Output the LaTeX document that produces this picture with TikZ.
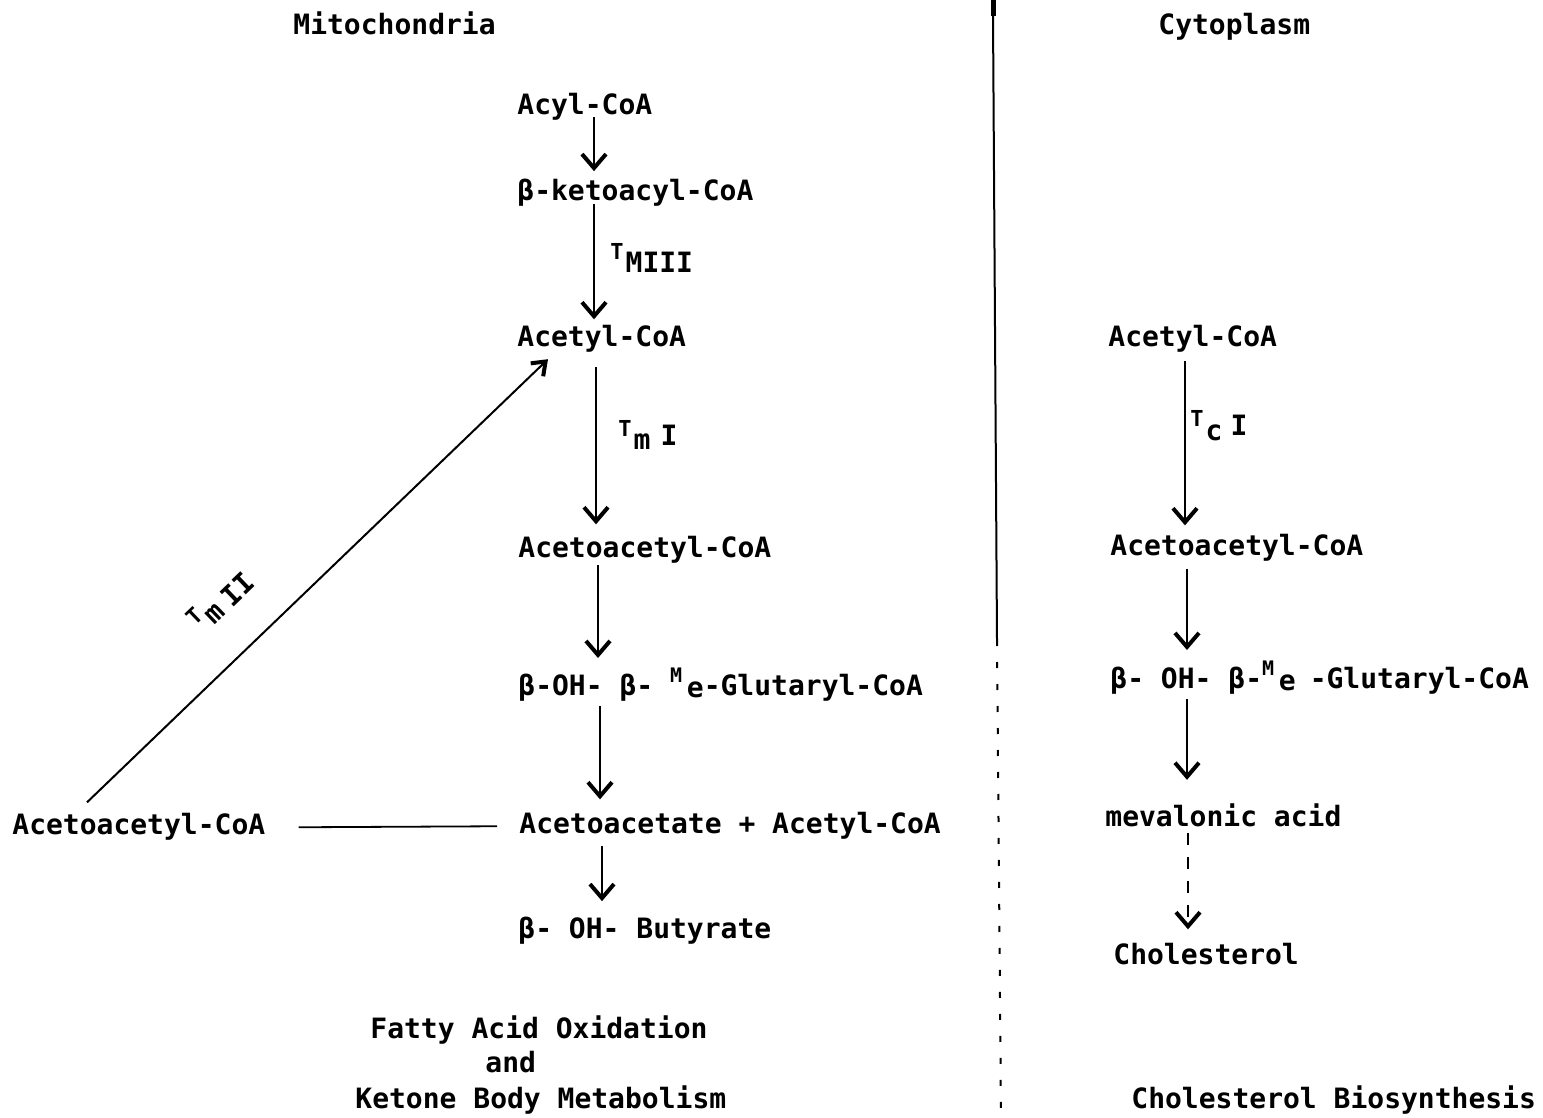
\documentclass[tikz,border=0pt]{standalone}
\usepackage{fontspec}
\setmainfont{DejaVu Sans Mono}
\usetikzlibrary{arrows.meta,calc}
\newcommand{\smT}{\raisebox{6.5pt}{\fontsize{11}{11}\selectfont\bfseries T}\kern1pt}
\newcommand{\smM}{\makebox[8.4pt][l]{\raisebox{6.5pt}{\fontsize{10}{10}\selectfont\bfseries M}}}
\begin{document}
\begin{tikzpicture}[x=0.5pt,y=-0.5pt,
  lbl/.style={inner sep=0pt,anchor=base west,font=\fontsize{14}{16}\selectfont\bfseries},
  arr/.style={line width=1.2pt,-{Straight Barb[length=7pt,width=12pt,line width=2pt]}},
  darr/.style={arr,dash pattern=on 6pt off 6pt},
  thin/.style={line width=0.9pt}]
\useasboundingbox (0,0) rectangle (1543,1118);
% headings
\node[lbl] (mito) at (293,35) {Mitochondria};
\node[lbl] (cyto) at (1158,35) {Cytoplasm};
% left column
\node[lbl] (acyl) at (517,115) {Acyl-CoA};
\node[lbl] (keto) at (517,201) {β-ketoacyl-CoA};
\node[lbl] (tm3) at (610,273) {\smT MIII};
\node[lbl] (acetyl) at (517,347) {Acetyl-CoA};
\node[lbl] (tm1) at (618,450) {\smT m\kern5pt\raisebox{2pt}{I}};
\node[lbl] (acac) at (518,557) {Acetoacetyl-CoA};
\node[lbl] (hmg) at (518,695) {β-OH- β- \smM\raisebox{-1pt}{e}-Glutaryl-CoA};
\node[lbl] (aca) at (519,833) {Acetoacetate + Acetyl-CoA};
\node[lbl] (buty) at (518,938) {β- OH- Butyrate};
\node[lbl] (acacL) at (12,834) {Acetoacetyl-CoA};
% captions
\node[lbl] (fao1) at (370,1038) {Fatty Acid Oxidation};
\node[lbl] (fao2) at (485,1072) {and};
\node[lbl] (fao3) at (355,1108) {Ketone Body Metabolism};
% right column
\node[lbl] (racetyl) at (1108,347) {Acetyl-CoA};
\node[lbl] (tc1) at (1190,440) {\smT c\kern4pt\raisebox{2pt}{I}};
\node[lbl] (racac) at (1110,555) {Acetoacetyl-CoA};
\node[lbl] (rhmg) at (1110,688) {β- OH- β-\smM\raisebox{-1pt}{e}\kern7pt-Glutaryl-CoA};
\node[lbl] (meval) at (1105,826) {mevalonic acid};
\node[lbl] (chol) at (1113,964) {Cholesterol};
\node[lbl] (cholbio) at (1131,1108) {Cholesterol Biosynthesis};
% divider
\draw[line width=2.5pt] (993,0) -- (993,16);
\draw[line width=1pt] (993,16) -- (997,640);
\draw[line width=1pt,dash pattern=on 3pt off 8pt] (997,640) -- (1001,1118);
% left arrows
\draw[arr] ($(acyl.south west)+(77,-4)$) -- ($(keto.north west)+(77,-8)$);
\draw[arr] ($(keto.south west)+(77,-3)$) -- ($(acetyl.north west)+(77,-6)$);
\draw[arr] ($(acetyl.south west)+(79,14)$) -- ($(acac.north west)+(78,-11)$);
\draw[arr] ($(acac.south west)+(80,2)$) -- ($(hmg.north west)+(80,-9)$);
\draw[arr] ($(hmg.south west)+(82,5)$) -- ($(aca.north west)+(81,-12)$);
\draw[arr] ($(aca.south west)+(83,7)$) -- ($(buty.north west)+(84,-15)$);
% diagonal T_m II
\draw[line width=1pt,-{Straight Barb[length=6pt,width=9pt,line width=2pt]}] ($(acacL.north west)+(75,-10)$) -- ($(acetyl.south west)+(31,6)$)
  node[pos=0.37,sloped,above=19pt,inner sep=0pt,font=\fontsize{14}{16}\selectfont\bfseries] (tm2) {\smT m\kern4pt II};
% horizontal connector
\draw[thin] ($(acacL.east)+(33,1)$) -- ($(aca.west)+(-22,1)$);
% right arrows
\draw[arr] ($(racetyl.south west)+(77,8)$) -- ($(racac.north west)+(75,-8)$);
\draw[arr] ($(racac.south west)+(77,8)$) -- ($(rhmg.north west)+(77,-10)$);
\draw[arr] ($(rhmg.south west)+(77,5)$) -- ($(meval.north west)+(82,-23)$);
\draw[darr] ($(meval.south west)+(83,6)$) -- ($(chol.north west)+(75,-13)$);
\end{tikzpicture}
\end{document}
